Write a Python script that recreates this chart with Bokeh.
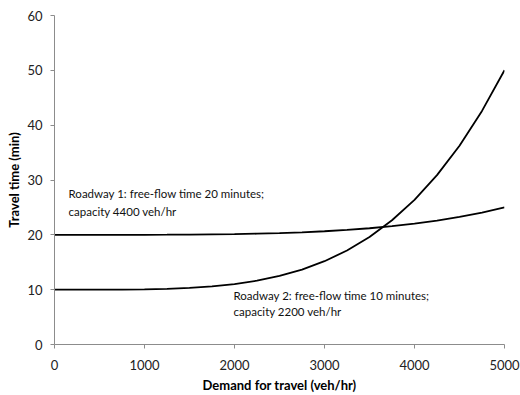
from bokeh.plotting import figure
from bokeh.models import Range1d, Label, FixedTicker
from bokeh.embed import file_html
from bokeh.resources import INLINE

demand = [0, 250, 500, 750, 1000, 1250, 1500, 1750, 2000, 2250, 2500, 2750,
          3000, 3250, 3500, 3750, 4000, 4250, 4500, 4750, 5000]
roadway1 = [20.0, 20.0, 20.0, 20.003, 20.008, 20.02, 20.04, 20.08, 20.13, 20.21, 20.31, 20.46,
            20.65, 20.89, 21.2, 21.58, 22.05, 22.61, 23.28, 24.07, 25.0]
roadway2 = [10.0, 10.0, 10.004, 10.017, 10.064, 10.156, 10.32, 10.6, 11.02, 11.64, 12.5, 13.66,
            15.19, 17.14, 19.61, 22.66, 26.39, 30.89, 36.26, 42.6, 50.02]
x_ticks = [0, 1000, 2000, 3000, 4000, 5000]
y_ticks = [0, 10, 20, 30, 40, 50, 60]

FONT = "Lato"

p = figure(width=520, height=395, output_backend="svg", toolbar_location=None,
           x_range=Range1d(0, 5000), y_range=Range1d(0, 60),
           min_border_left=54, min_border_right=16, min_border_top=15, min_border_bottom=50)
p.outline_line_color = None
p.xgrid.visible = False
p.ygrid.visible = False

p.line(demand, roadway1, line_color="black", line_width=1.8)
p.line(demand, roadway2, line_color="black", line_width=1.8)

for ax in (p.xaxis[0], p.yaxis[0]):
    ax.axis_line_color = "#8c8c8c"
    ax.major_tick_line_color = "#8c8c8c"
    ax.minor_tick_line_color = None
    ax.major_tick_out = 4
    ax.major_tick_in = 0
    ax.major_label_text_font = FONT
    ax.major_label_text_font_size = "13px"
    ax.major_label_text_color = "#222222"
    ax.axis_label_text_font = FONT
    ax.axis_label_text_font_size = "13px"
    ax.axis_label_text_font_style = "bold"
    ax.axis_label_text_color = "black"

p.xaxis.ticker = FixedTicker(ticks=x_ticks)
p.yaxis.ticker = FixedTicker(ticks=y_ticks)
p.xaxis.axis_label = "Demand for travel (veh/hr)"
p.yaxis.axis_label = "Travel time (min)"
p.xaxis.major_label_standoff = 11
p.yaxis.major_label_standoff = 8
p.xaxis.axis_label_standoff = 4
p.yaxis.axis_label_standoff = 2

def note(x, y, t):
    p.add_layout(Label(x=x, y=y, text=t, text_font=FONT, text_font_size="11.5px",
                       text_color="#111111", text_baseline="middle", text_align="left"))

note(156, 27.6, "Roadway 1: free-flow time 20 minutes;")
note(156, 24.2, "capacity 4400 veh/hr")
note(1989, 8.9, "Roadway 2: free-flow time 10 minutes;")
note(1989, 6.1, "capacity 2200 veh/hr")

open("out.html", "w").write(file_html(p, INLINE))
